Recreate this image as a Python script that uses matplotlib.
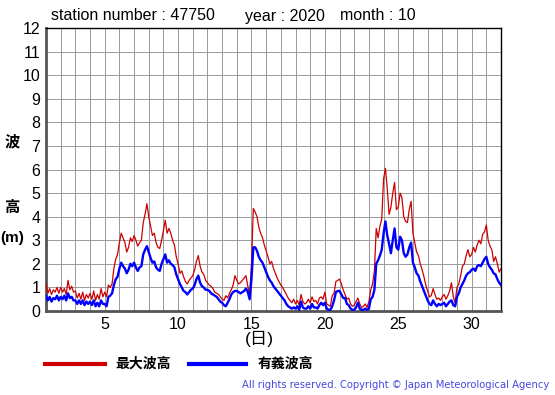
import numpy as np
import matplotlib
matplotlib.use("Agg")
import matplotlib.pyplot as plt

plt.rcParams['font.family'] = ['Liberation Sans', 'Noto Sans CJK JP', 'DejaVu Sans']

# 3-hourly readings, day 1 00h .. day 32 00h (October 2020, station 47750)
max_wave = [
    1.15, 0.75, 0.95, 0.7, 0.9, 0.8, 1.0, 0.75,      # 1
    1.0, 0.8, 0.95, 0.7, 1.3, 0.9, 1.05, 0.8,        # 2
    0.85, 0.55, 0.75, 0.5, 0.8, 0.45, 0.7, 0.55,     # 3
    0.75, 0.5, 0.85, 0.45, 0.7, 0.5, 0.95, 0.6,      # 4
    0.8, 0.6, 1.1, 1.0, 1.15, 1.8, 2.2, 2.4,         # 5
    2.9, 3.3, 3.1, 2.9, 2.5, 2.7, 3.1, 2.95,         # 6
    3.2, 3.0, 2.75, 2.9, 3.0, 3.75, 4.1, 4.55,       # 7
    4.0, 3.6, 3.2, 3.3, 2.9, 2.7, 2.65, 3.0,         # 8
    3.4, 3.85, 3.3, 3.5, 3.3, 3.0, 2.8, 2.3,         # 9
    2.0, 1.6, 1.7, 1.45, 1.25, 1.15, 1.3, 1.4,       # 10
    1.5, 1.75, 2.1, 2.35, 1.9, 1.65, 1.55, 1.3,      # 11
    1.2, 1.1, 1.05, 0.95, 0.8, 0.75, 0.7, 0.6,       # 12
    0.5, 0.45, 0.65, 0.55, 0.75, 0.9, 1.1, 1.5,      # 13
    1.3, 1.15, 1.2, 1.3, 1.4, 1.5, 1.05, 0.65,       # 14
    2.0, 4.35, 4.2, 4.0, 3.55, 3.3, 3.1, 2.8,        # 15
    2.55, 2.3, 2.0, 2.1, 1.8, 1.6, 1.4, 1.25,        # 16
    1.1, 1.0, 0.85, 0.7, 0.55, 0.45, 0.35, 0.5,      # 17
    0.3, 0.45, 0.25, 0.7, 0.4, 0.3, 0.35, 0.5,       # 18
    0.35, 0.6, 0.4, 0.45, 0.3, 0.55, 0.6, 0.5,       # 19
    0.8, 0.3, 0.25, 0.2, 0.65, 0.75, 1.25, 1.3,      # 20
    1.35, 1.15, 0.9, 0.7, 0.5, 0.55, 0.3, 0.2,       # 21
    0.25, 0.4, 0.55, 0.3, 0.15, 0.2, 0.3, 0.15,      # 22
    0.4, 0.9, 1.15, 1.7, 3.5, 3.1, 3.6, 3.9,         # 23
    5.6, 6.05, 5.2, 4.1, 4.4, 5.0, 5.45, 4.3,        # 24
    4.4, 5.0, 4.8, 4.0, 3.8, 3.75, 4.3, 4.65,        # 25
    3.3, 2.9, 2.5, 2.35, 2.0, 1.75, 1.45, 1.1,       # 26
    0.85, 0.6, 0.65, 0.95, 0.7, 0.5, 0.55, 0.45,     # 27
    0.6, 0.7, 0.5, 0.65, 0.85, 1.2, 0.6, 0.35,       # 28
    1.0, 1.15, 1.5, 1.9, 2.0, 2.35, 2.6, 2.3,        # 29
    2.4, 2.7, 2.5, 2.8, 3.0, 2.85, 3.25, 3.35,       # 30
    3.65, 3.0, 2.75, 2.6, 2.1, 2.3, 2.0, 1.65,       # 31
    1.8,
]

sig_wave = [
    0.65, 0.45, 0.6, 0.4, 0.55, 0.5, 0.65, 0.45,     # 1
    0.6, 0.5, 0.65, 0.45, 0.75, 0.55, 0.6, 0.45,     # 2
    0.45, 0.3, 0.45, 0.3, 0.45, 0.25, 0.4, 0.3,      # 3
    0.4, 0.25, 0.45, 0.2, 0.35, 0.2, 0.45, 0.3,      # 4
    0.3, 0.2, 0.6, 0.65, 0.75, 1.1, 1.35, 1.45,      # 5
    1.8, 2.05, 1.9, 1.8, 1.6, 1.75, 2.0, 1.9,        # 6
    2.05, 1.85, 1.7, 1.85, 1.9, 2.4, 2.6, 2.75,      # 7
    2.5, 2.25, 2.05, 2.1, 1.85, 1.75, 1.7, 2.0,      # 8
    2.2, 2.4, 2.05, 2.15, 2.0, 1.95, 1.85, 1.55,     # 9
    1.35, 1.15, 1.0, 0.85, 0.8, 0.7, 0.8, 0.9,       # 10
    0.95, 1.1, 1.35, 1.5, 1.2, 1.05, 1.0, 0.9,       # 11
    0.9, 0.85, 0.75, 0.7, 0.65, 0.6, 0.5, 0.4,       # 12
    0.35, 0.25, 0.2, 0.35, 0.5, 0.7, 0.8, 0.85,      # 13
    0.85, 0.8, 0.75, 0.8, 0.85, 0.95, 0.8, 0.5,      # 14
    1.35, 2.7, 2.7, 2.55, 2.3, 2.15, 2.05, 1.85,     # 15
    1.65, 1.45, 1.3, 1.2, 1.05, 0.95, 0.85, 0.75,    # 16
    0.65, 0.55, 0.45, 0.3, 0.2, 0.15, 0.1, 0.15,     # 17
    0.1, 0.2, 0.05, 0.4, 0.15, 0.1, 0.1, 0.2,        # 18
    0.1, 0.3, 0.15, 0.15, 0.1, 0.25, 0.35, 0.25,     # 19
    0.35, 0.1, 0.05, 0.05, 0.2, 0.45, 0.8, 0.85,     # 20
    0.85, 0.7, 0.55, 0.55, 0.3, 0.25, 0.1, 0.05,     # 21
    0.05, 0.15, 0.35, 0.1, 0.05, 0.05, 0.1, 0.05,    # 22
    0.1, 0.5, 0.6, 0.9, 2.0, 2.15, 2.35, 2.6,        # 23
    3.3, 3.8, 3.2, 2.85, 2.45, 3.0, 3.5, 2.7,        # 24
    2.6, 3.15, 3.0, 2.45, 2.3, 2.4, 2.7, 2.9,        # 25
    2.05, 1.85, 1.6, 1.5, 1.25, 1.05, 0.85, 0.65,    # 26
    0.45, 0.3, 0.25, 0.45, 0.3, 0.2, 0.3, 0.25,      # 27
    0.3, 0.35, 0.2, 0.3, 0.4, 0.45, 0.25, 0.2,       # 28
    0.6, 0.75, 1.0, 1.15, 1.3, 1.5, 1.6, 1.65,       # 29
    1.75, 1.8, 1.7, 1.9, 1.95, 1.9, 2.05, 2.2,       # 30
    2.3, 2.0, 1.85, 1.75, 1.6, 1.55, 1.35, 1.2,      # 31
    1.1,
]

x_ticks = [5, 10, 15, 20, 25, 30]
y_ticks = list(range(0, 13))
legend_labels = ["最大波高", "有義波高"]

days = 1 + np.arange(len(max_wave)) / 8.0

fig = plt.figure(figsize=(5.55, 3.95), dpi=100)
ax = fig.add_axes([46 / 555, 1 - 311 / 395, 455 / 555, 283 / 395])

# grid: every day / every metre
for d in range(2, 32):
    ax.axvline(d, color="#999999", lw=0.7, zorder=1)
for v in range(1, 12):
    ax.axhline(v, color="#999999", lw=0.7, zorder=1)

ax.plot(days, max_wave, color="#cc0000", lw=0.9, zorder=3)
ax.plot(days, sig_wave, color="#0000ff", lw=1.7, zorder=4)

ax.set_xlim(1, 32)
ax.set_ylim(0, 12)
ax.set_xticks(x_ticks)
ax.set_yticks(y_ticks)
ax.tick_params(length=0, labelsize=11.5, pad=4)
for side in ["left", "bottom"]:
    ax.spines[side].set_color("#555555")
    ax.spines[side].set_linewidth(2)
for side in ["top", "right"]:
    ax.spines[side].set_color("black")
    ax.spines[side].set_linewidth(1)

# header
fig.text(51 / 555, 1 - 16 / 395, "station number : 47750", fontsize=11.5, va="center")
fig.text(245 / 555, 1 - 16 / 395, "year : 2020", fontsize=11.5, va="center")
fig.text(340 / 555, 1 - 16 / 395, "month : 10", fontsize=11.5, va="center")

# axis labels
fig.text(12 / 555, 1 - 142 / 395, "波", fontsize=11, ha="center", va="center", fontweight="bold")
fig.text(12 / 555, 1 - 208 / 395, "高", fontsize=11, ha="center", va="center", fontweight="bold")
fig.text(12 / 555, 1 - 238 / 395, "(m)", fontsize=11, ha="center", va="center", fontweight="bold")
fig.text(259 / 555, 1 - 339 / 395, "(日)", fontsize=12.5, ha="center", va="center")

# legend
fig.add_artist(plt.Line2D([45 / 555, 105 / 555], [1 - 364 / 395] * 2, color="#cc0000", lw=3))
fig.text(115 / 555, 1 - 364 / 395, legend_labels[0], fontsize=10, va="center", fontweight="bold")
fig.add_artist(plt.Line2D([189 / 555, 246 / 555], [1 - 364 / 395] * 2, color="#0000ff", lw=3))
fig.text(258 / 555, 1 - 364 / 395, legend_labels[1], fontsize=10, va="center", fontweight="bold")

fig.text(549 / 555, 1 - 385 / 395, "All rights reserved. Copyright © Japan Meteorological Agency",
         fontsize=7.2, color="#4848e0", ha="right", va="center", family=["DejaVu Sans"])

fig.savefig("out.png", dpi=100)
